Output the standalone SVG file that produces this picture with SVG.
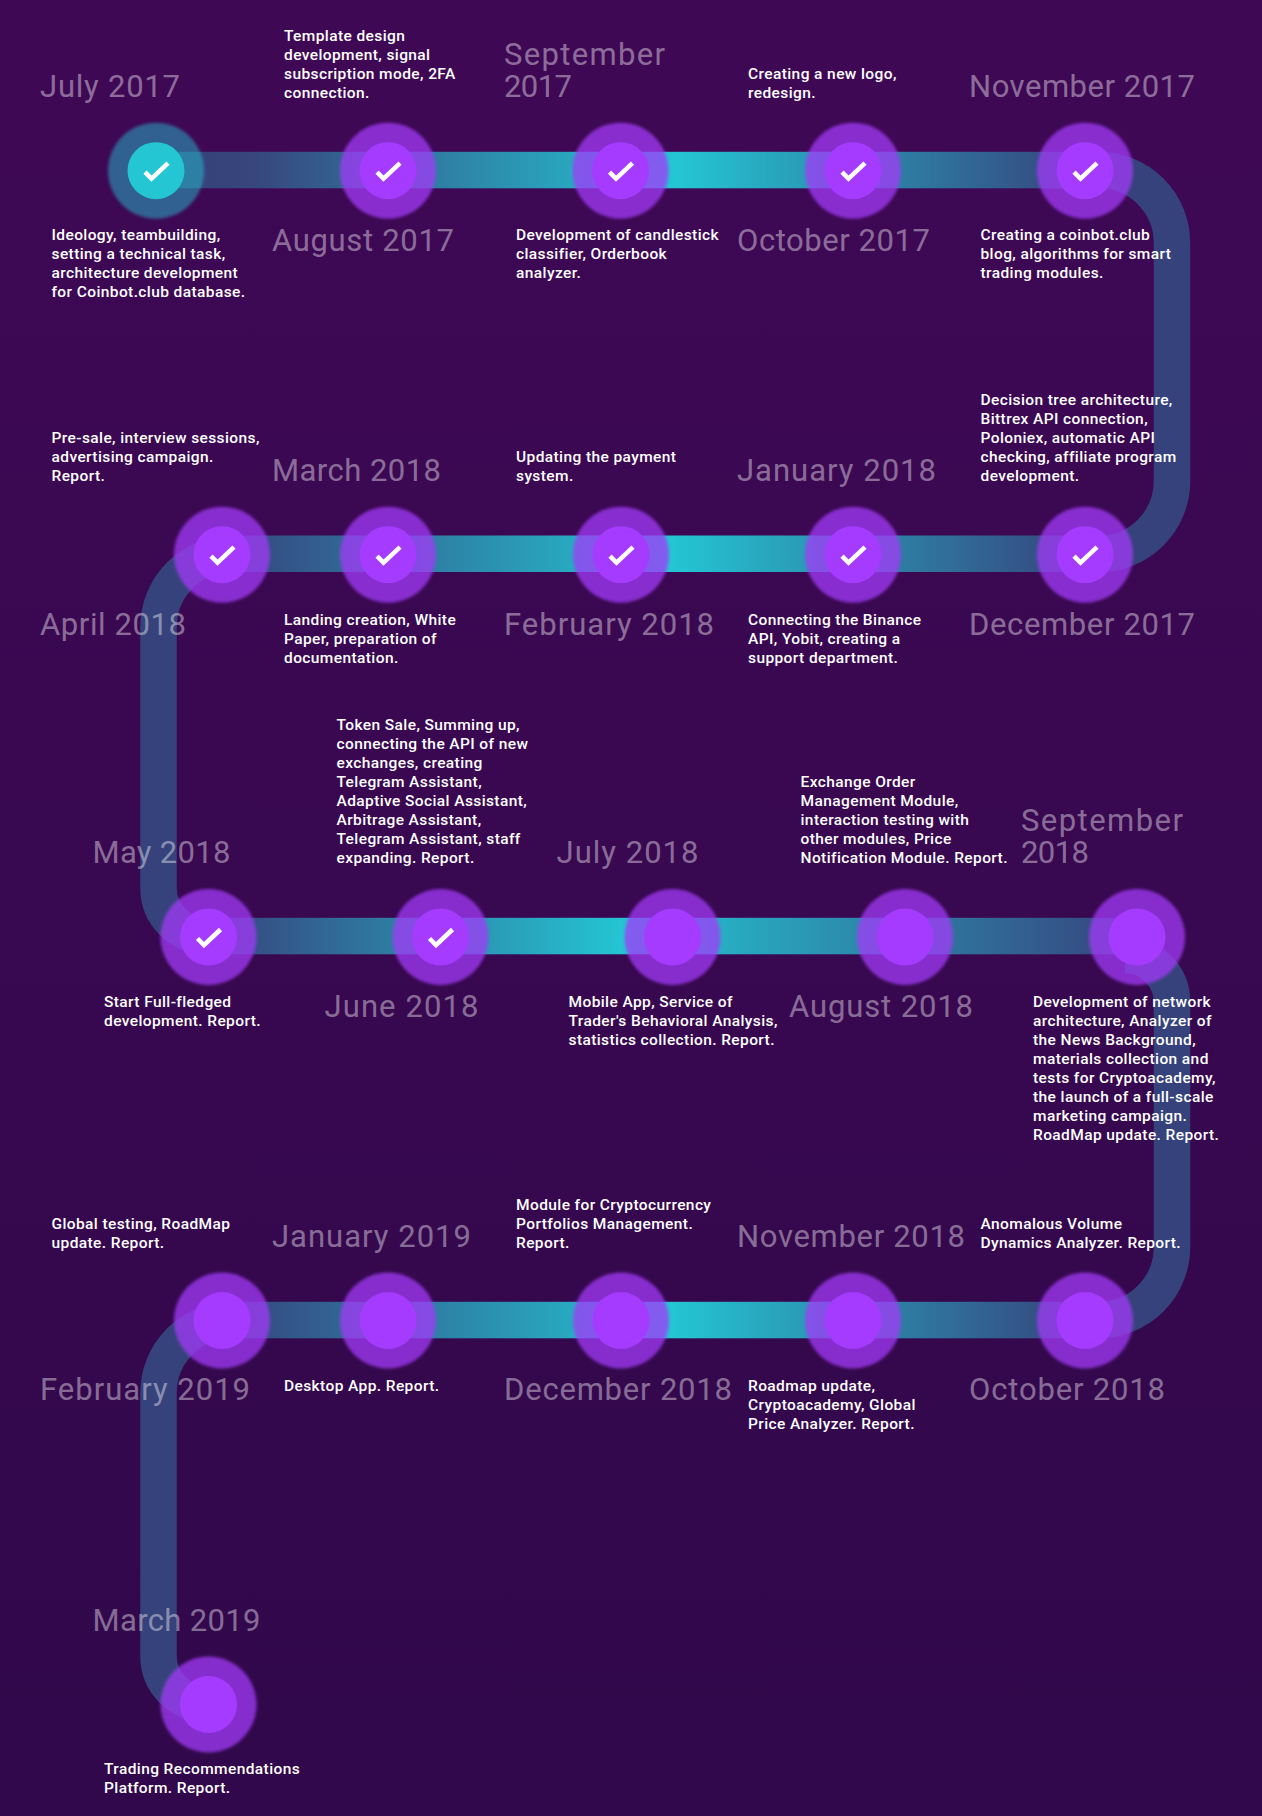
<svg xmlns="http://www.w3.org/2000/svg" width="1262" height="1816" viewBox="0 0 1262 1816">
<style>
.t{font-family:"Roboto","Liberation Sans",sans-serif;font-size:15.5px;font-weight:500;fill:#fff;letter-spacing:.4px}
.h{font-family:"Roboto","Liberation Sans",sans-serif;font-size:31px;font-weight:400;fill:#fff;fill-opacity:.42}
.halo{fill:#a238f8;fill-opacity:.75;filter:url(#soft)}
.core{fill:#a53bff}
.chk{fill:none;stroke:#fff;stroke-width:4.5}
.trk{fill:none;stroke-width:36.5}
.arc{stroke:#36427b}
</style>
<defs>
<linearGradient id="bg" x1="0" y1="0" x2="0" y2="1"><stop offset="0" stop-color="#3f0855"/><stop offset="1" stop-color="#31084b"/></linearGradient>
<linearGradient id="g1" gradientUnits="userSpaceOnUse" x1="156" y1="0" x2="1085" y2="0"><stop offset="0" stop-color="#36427b"/><stop offset=".1" stop-color="#37457c"/><stop offset=".56" stop-color="#24c6d4"/><stop offset="1" stop-color="#36427b"/></linearGradient>
<linearGradient id="g2" gradientUnits="userSpaceOnUse" x1="222" y1="0" x2="1085" y2="0"><stop offset="0" stop-color="#36427b"/><stop offset=".52" stop-color="#24c6d4"/><stop offset="1" stop-color="#36427b"/></linearGradient>
<linearGradient id="g3" gradientUnits="userSpaceOnUse" x1="208" y1="0" x2="1137" y2="0"><stop offset="0" stop-color="#36427b"/><stop offset=".45" stop-color="#24c6d4"/><stop offset="1" stop-color="#36427b"/></linearGradient>
<filter id="soft" x="-10%" y="-10%" width="120%" height="120%"><feGaussianBlur stdDeviation="1.8"/></filter>
<path id="c" class="chk" d="M-11 1.500L-4.500 8 12 -7.500"/>
</defs>
<rect width="1262" height="1816" fill="url(#bg)"/>
<g id="connectors">
<path class="trk arc" d="M1085 170H1099A73 73 0 0 1 1172 243V481A73 73 0 0 1 1099 554H1085"/>
<path class="trk arc" d="M222 554H231.500A73 73 0 0 0 158.500 627V888A48 48 0 0 0 206.500 936"/>
<path class="trk arc" d="M1125 955A47 47 0 0 1 1172 1002V1247A73 73 0 0 1 1099 1320H1085"/>
<path class="trk arc" d="M222 1320H231.500A73 73 0 0 0 158.500 1393V1656A48 48 0 0 0 206.500 1704"/>
<rect x="156" y="151.800" width="929" height="36.500" fill="url(#g1)"/>
<rect x="222" y="535.500" width="863" height="36.500" fill="url(#g2)"/>
<rect x="208.500" y="917.800" width="928.500" height="36.500" fill="url(#g3)"/>
<rect x="222" y="1301.800" width="863" height="36.500" fill="url(#g2)"/>
</g>
<g id="n-jul17"><circle cx="156" cy="170.700" r="48" fill="#24c6d4" fill-opacity=".47" filter="url(#soft)"/><circle cx="156" cy="170.700" r="28.500" fill="#24c6d4"/><use href="#c" x="156" y="170.700"/>
<text class="h" x="40" y="97" textLength="140">July 2017</text>
<text class="t"><tspan x="51.500" y="240">Ideology, teambuilding,</tspan><tspan x="51.500" y="259">setting a technical task,</tspan><tspan x="51.500" y="278">architecture development</tspan><tspan x="51.500" y="297">for Coinbot.club database.</tspan></text></g>
<g id="n-aug17"><circle class="halo" cx="388" cy="170.700" r="48"/><circle class="core" cx="388" cy="170.700" r="28.500"/><use href="#c" x="388" y="170.700"/>
<text class="h" x="272" y="250.500" textLength="182">August 2017</text>
<text class="t"><tspan x="284" y="40.500">Template design</tspan><tspan x="284" y="59.500">development, signal</tspan><tspan x="284" y="78.500">subscription mode, 2FA</tspan><tspan x="284" y="97.500">connection.</tspan></text></g>
<g id="n-sep17"><circle class="halo" cx="620.500" cy="170.700" r="48"/><circle class="core" cx="620.500" cy="170.700" r="28.500"/><use href="#c" x="620.500" y="170.700"/>
<text class="h" x="504" y="65" textLength="161">September</text><text class="h" x="504" y="97" textLength="68">2017</text>
<text class="t"><tspan x="516" y="240">Development of candlestick</tspan><tspan x="516" y="259">classifier, Orderbook</tspan><tspan x="516" y="278">analyzer.</tspan></text></g>
<g id="n-oct17"><circle class="halo" cx="853" cy="170.700" r="48"/><circle class="core" cx="853" cy="170.700" r="28.500"/><use href="#c" x="853" y="170.700"/>
<text class="h" x="737" y="250.500" textLength="193">October 2017</text>
<text class="t"><tspan x="748" y="78.500">Creating a new logo,</tspan><tspan x="748" y="97.500">redesign.</tspan></text></g>
<g id="n-nov17"><circle class="halo" cx="1085" cy="170.700" r="48"/><circle class="core" cx="1085" cy="170.700" r="28.500"/><use href="#c" x="1085" y="170.700"/>
<text class="h" x="969" y="97" textLength="226">November 2017</text>
<text class="t"><tspan x="980.500" y="240">Creating a coinbot.club</tspan><tspan x="980.500" y="259">blog, algorithms for smart</tspan><tspan x="980.500" y="278">trading modules.</tspan></text></g>

<g id="n-dec17"><circle class="halo" cx="1085" cy="554.700" r="48"/><circle class="core" cx="1085" cy="554.700" r="28.500"/><use href="#c" x="1085" y="554.700"/>
<text class="h" x="969" y="635" textLength="226">December 2017</text>
<text class="t"><tspan x="980.500" y="405">Decision tree architecture,</tspan><tspan x="980.500" y="424">Bittrex API connection,</tspan><tspan x="980.500" y="443">Poloniex, automatic API</tspan><tspan x="980.500" y="462">checking, affiliate program</tspan><tspan x="980.500" y="481">development.</tspan></text></g>
<g id="n-jan18"><circle class="halo" cx="853" cy="554.700" r="48"/><circle class="core" cx="853" cy="554.700" r="28.500"/><use href="#c" x="853" y="554.700"/>
<text class="h" x="737" y="481" textLength="199">January 2018</text>
<text class="t"><tspan x="748" y="625">Connecting the Binance</tspan><tspan x="748" y="644">API, Yobit, creating a</tspan><tspan x="748" y="663">support department.</tspan></text></g>
<g id="n-feb18"><circle class="halo" cx="621" cy="554.700" r="48"/><circle class="core" cx="621" cy="554.700" r="28.500"/><use href="#c" x="621" y="554.700"/>
<text class="h" x="504" y="635" textLength="210">February 2018</text>
<text class="t"><tspan x="516" y="462">Updating the payment</tspan><tspan x="516" y="481">system.</tspan></text></g>
<g id="n-mar18"><circle class="halo" cx="388" cy="554.700" r="48"/><circle class="core" cx="388" cy="554.700" r="28.500"/><use href="#c" x="388" y="554.700"/>
<text class="h" x="272" y="481" textLength="169">March 2018</text>
<text class="t"><tspan x="284" y="625">Landing creation, White</tspan><tspan x="284" y="644">Paper, preparation of</tspan><tspan x="284" y="663">documentation.</tspan></text></g>
<g id="n-apr18"><circle class="halo" cx="222" cy="554.700" r="48"/><circle class="core" cx="222" cy="554.700" r="28.500"/><use href="#c" x="222" y="554.700"/>
<text class="h" x="40" y="635" textLength="146">April 2018</text>
<text class="t"><tspan x="51.500" y="443">Pre-sale, interview sessions,</tspan><tspan x="51.500" y="462">advertising campaign.</tspan><tspan x="51.500" y="481">Report.</tspan></text></g>

<g id="n-may18"><circle class="halo" cx="208.500" cy="937" r="48"/><circle class="core" cx="208.500" cy="937" r="28.500"/><use href="#c" x="208.500" y="937"/>
<text class="h" x="92.500" y="863" textLength="138">May 2018</text>
<text class="t"><tspan x="104" y="1007">Start Full-fledged</tspan><tspan x="104" y="1026">development. Report.</tspan></text></g>
<g id="n-jun18"><circle class="halo" cx="440.500" cy="937" r="48"/><circle class="core" cx="440.500" cy="937" r="28.500"/><use href="#c" x="440.500" y="937"/>
<text class="h" x="324.500" y="1017" textLength="154">June 2018</text>
<text class="t"><tspan x="336.500" y="730">Token Sale, Summing up,</tspan><tspan x="336.500" y="749">connecting the API of new</tspan><tspan x="336.500" y="768">exchanges, creating</tspan><tspan x="336.500" y="787">Telegram Assistant,</tspan><tspan x="336.500" y="806">Adaptive Social Assistant,</tspan><tspan x="336.500" y="825">Arbitrage Assistant,</tspan><tspan x="336.500" y="844">Telegram Assistant, staff</tspan><tspan x="336.500" y="863">expanding. Report.</tspan></text></g>
<g id="n-jul18"><circle class="halo" cx="672.500" cy="937" r="48"/><circle class="core" cx="672.500" cy="937" r="28.500"/>
<text class="h" x="556.500" y="863" textLength="142">July 2018</text>
<text class="t"><tspan x="568.500" y="1007">Mobile App, Service of</tspan><tspan x="568.500" y="1026">Trader's Behavioral Analysis,</tspan><tspan x="568.500" y="1045">statistics collection. Report.</tspan></text></g>
<g id="n-aug18"><circle class="halo" cx="905" cy="937" r="48"/><circle class="core" cx="905" cy="937" r="28.500"/>
<text class="h" x="789" y="1017" textLength="184">August 2018</text>
<text class="t"><tspan x="800.500" y="787">Exchange Order</tspan><tspan x="800.500" y="806">Management Module,</tspan><tspan x="800.500" y="825">interaction testing with</tspan><tspan x="800.500" y="844">other modules, Price</tspan><tspan x="800.500" y="863">Notification Module. Report.</tspan></text></g>
<g id="n-sep18"><circle class="halo" cx="1137" cy="937" r="48"/><circle class="core" cx="1137" cy="937" r="28.500"/>
<text class="h" x="1021" y="831" textLength="162">September</text><text class="h" x="1021" y="863" textLength="68">2018</text>
<text class="t"><tspan x="1033" y="1007">Development of network</tspan><tspan x="1033" y="1026">architecture, Analyzer of</tspan><tspan x="1033" y="1045">the News Background,</tspan><tspan x="1033" y="1064">materials collection and</tspan><tspan x="1033" y="1083">tests for Cryptoacademy,</tspan><tspan x="1033" y="1102">the launch of a full-scale</tspan><tspan x="1033" y="1121">marketing campaign.</tspan><tspan x="1033" y="1140">RoadMap update. Report.</tspan></text></g>

<g id="n-oct18"><circle class="halo" cx="1085" cy="1320.500" r="48"/><circle class="core" cx="1085" cy="1320.500" r="28.500"/>
<text class="h" x="969" y="1400" textLength="196">October 2018</text>
<text class="t"><tspan x="980.500" y="1229">Anomalous Volume</tspan><tspan x="980.500" y="1248">Dynamics Analyzer. Report.</tspan></text></g>
<g id="n-nov18"><circle class="halo" cx="853" cy="1320.500" r="48"/><circle class="core" cx="853" cy="1320.500" r="28.500"/>
<text class="h" x="737" y="1246.500" textLength="228">November 2018</text>
<text class="t"><tspan x="748" y="1390.500">Roadmap update,</tspan><tspan x="748" y="1409.500">Cryptoacademy, Global</tspan><tspan x="748" y="1428.500">Price Analyzer. Report.</tspan></text></g>
<g id="n-dec18"><circle class="halo" cx="621" cy="1320.500" r="48"/><circle class="core" cx="621" cy="1320.500" r="28.500"/>
<text class="h" x="504" y="1400" textLength="228">December 2018</text>
<text class="t"><tspan x="516" y="1210">Module for Cryptocurrency</tspan><tspan x="516" y="1229">Portfolios Management.</tspan><tspan x="516" y="1248">Report.</tspan></text></g>
<g id="n-jan19"><circle class="halo" cx="388" cy="1320.500" r="48"/><circle class="core" cx="388" cy="1320.500" r="28.500"/>
<text class="h" x="272" y="1246.500" textLength="199">January 2019</text>
<text class="t" x="284" y="1390.500">Desktop App. Report.</text></g>
<g id="n-feb19"><circle class="halo" cx="222" cy="1320.500" r="48"/><circle class="core" cx="222" cy="1320.500" r="28.500"/>
<text class="h" x="40" y="1400" textLength="210">February 2019</text>
<text class="t"><tspan x="51.500" y="1229">Global testing, RoadMap</tspan><tspan x="51.500" y="1248">update. Report.</tspan></text></g>
<g id="n-mar19"><circle class="halo" cx="208.500" cy="1704.500" r="48"/><circle class="core" cx="208.500" cy="1704.500" r="28.500"/>
<text class="h" x="92.500" y="1630.500" textLength="168">March 2019</text>
<text class="t"><tspan x="104" y="1774">Trading Recommendations</tspan><tspan x="104" y="1793">Platform. Report.</tspan></text></g>
</svg>
